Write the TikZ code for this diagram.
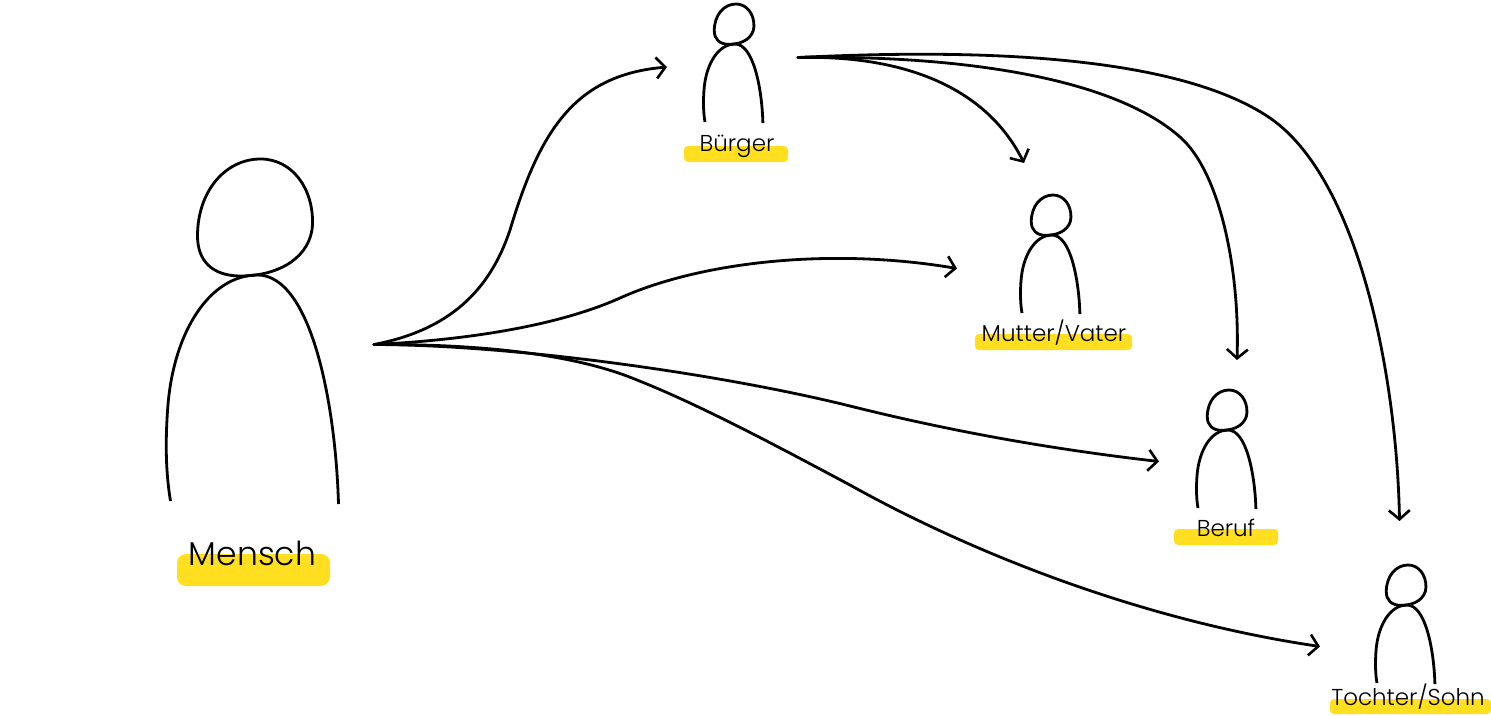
\documentclass[tikz,border=0pt]{standalone}
\usepackage{fontspec}
\setmainfont{Poppins}[UprightFont={* Light}]
\usetikzlibrary{arrows.meta}
\definecolor{hl}{HTML}{FFDF1F}
\tikzset{
  x=1pt,y=-1pt,
  link/.style={line width=2.8pt,line cap=round,-{Straight Barb[length=9pt,width=21pt,line width=2.6pt]}},
  mark bar/.style={fill=hl,rounded corners=#1,draw=none},
  small label/.style={font=\fontsize{23}{23}\selectfont,inner sep=0pt,text=black},
  big label/.style={font=\fontsize{33}{33}\selectfont,inner sep=0pt,text=black},
  person/.pic={
    \begin{scope}[shift={(-260,-158)}]
      \draw[line width=\figlw] (260,158) .. controls (292,158) and (313,188) .. (312,223)
        .. controls (311,255) and (280,275) .. (240,275)
        .. controls (212,275) and (197,260) .. (197,235)
        .. controls (197,190) and (225,158) .. (260,158) -- cycle;
      \draw[line width=\figlw] (170,500) .. controls (165,470) and (165,440) .. (167,410)
        .. controls (172,330) and (210,274) .. (257,274)
        .. controls (310,274) and (335,400) .. (338,503);
    \end{scope}
  }
}
\newcommand{\figlw}{2.8pt}
\begin{document}
\begin{tikzpicture}
\useasboundingbox (0,0) rectangle (1491,715);
% highlight bars
\fill[mark bar=9pt] (177,554) rectangle (330,586);
\fill[mark bar=4pt] (684,146) rectangle (788,162);
\fill[mark bar=4pt] (975,334) rectangle (1132,350);
\fill[mark bar=4pt] (1174,529) rectangle (1278,545);
\fill[mark bar=4pt] (1330,699) rectangle (1491,714);
% figures
\pic at (260.5,159) {person};
\pic[scale=0.345] at (736,4) {person};
\pic[scale=0.345] at (1053,195) {person};
\pic[scale=0.345] at (1229,390) {person};
\pic[scale=0.345] at (1408,565) {person};
% labels
\node[big label] (mensch) at (252.5,553) {Mensch};
\node[small label] (buerger) at (737,146) {Bürger};
\node[small label] (eltern) at (1054,333) {Mutter/Vater};
\node[small label] (beruf) at (1226,528) {Beruf};
\node[small label] (kind) at (1408,697) {Tochter/Sohn};
% connector ends
\coordinate (mout) at (374,344.5);
\coordinate (bout) at (798,57.5);
\coordinate (binn) at (667,67);
\coordinate (einn) at (957,268.5);
\coordinate (einb) at (1024,163);
\coordinate (rinm) at (1159,461.5);
\coordinate (rinb) at (1237,360);
\coordinate (kinm) at (1320,646.5);
\coordinate (kinb) at (1399.5,521);
% connectors
\draw[link] (mout) .. controls (450,330) and (490,290) .. (510,230)
  .. controls (540,130) and (575,75) .. (binn);
\draw[link] (mout) .. controls (470,340) and (560,325) .. (620,298)
  .. controls (700,262) and (830,247) .. (einn);
\draw[link] (mout) .. controls (520,345) and (725,375) .. (850,406)
  .. controls (950,431) and (1050,449) .. (rinm);
\draw[link] (mout) .. controls (470,344) and (570,352) .. (637,380)
  .. controls (700,405) and (775,445) .. (850,485)
  .. controls (970,552) and (1140,620) .. (kinm);
\draw[link] (bout) .. controls (900,55) and (985,85) .. (einb);
\draw[link] (bout) .. controls (950,55) and (1110,75) .. (1180,137)
  .. controls (1220,172) and (1240,270) .. (rinb);
\draw[link] (bout) .. controls (950,50) and (1170,50) .. (1270,118)
  .. controls (1360,180) and (1397,380) .. (kinb);
\end{tikzpicture}
\end{document}
